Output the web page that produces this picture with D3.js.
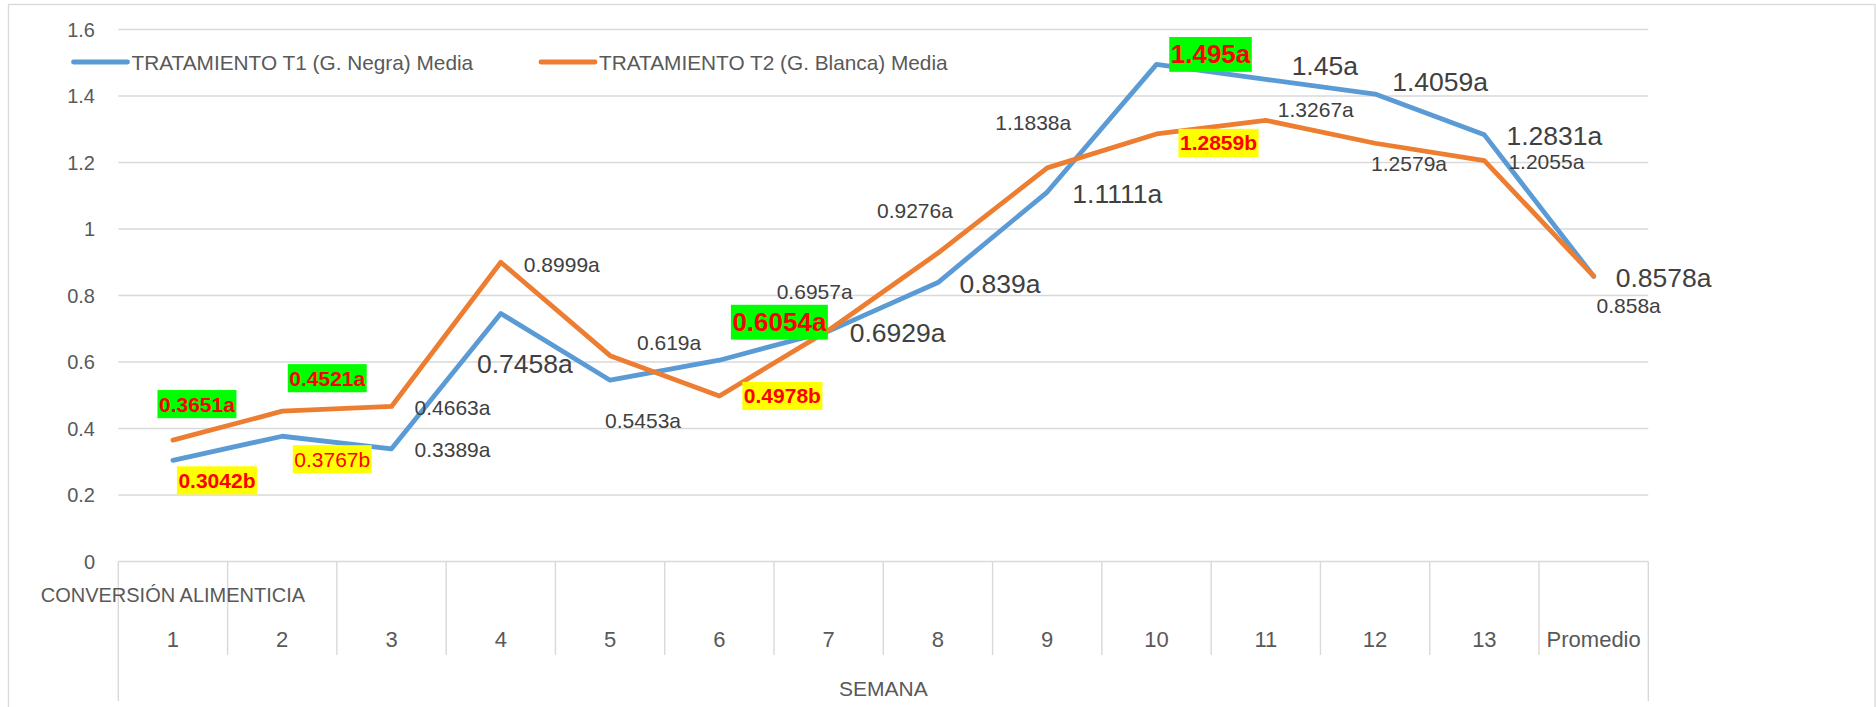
<!DOCTYPE html>
<html>
<head>
<meta charset="utf-8">
<script src="https://cdn.jsdelivr.net/npm/d3@7"></script>
<style>
  html, body { margin: 0; padding: 0; background: #ffffff; }
  svg { display: block; }
  text { font-family: "Liberation Sans", Arial, sans-serif; }
</style>
</head>
<body>
<svg id="chart" width="1876" height="707"></svg>
<script>
// ---------------- DATA ----------------
const categories = ["1","2","3","4","5","6","7","8","9","10","11","12","13","Promedio"];
const seriesNames = ["TRATAMIENTO T1 (G. Negra) Media", "TRATAMIENTO T2 (G. Blanca) Media"];
const t1Values = [0.3042, 0.3767, 0.3389, 0.7458, 0.5453, 0.6054, 0.6929, 0.839, 1.1111, 1.495, 1.45, 1.4059, 1.2831, 0.8578];
const t2Values = [0.3651, 0.4521, 0.4663, 0.8999, 0.619, 0.4978, 0.6957, 0.9276, 1.1838, 1.2859, 1.3267, 1.2579, 1.2055, 0.858];
const t1Labels = ["0.3042b","0.3767b","0.3389a","0.7458a","0.5453a","0.6054a","0.6929a","0.839a","1.1111a","1.495a","1.45a","1.4059a","1.2831a","0.8578a"];
const t2Labels = ["0.3651a","0.4521a","0.4663a","0.8999a","0.619a","0.4978b","0.6957a","0.9276a","1.1838a","1.2859b","1.3267a","1.2579a","1.2055a","0.858a"];
const yTicks = [0, 0.2, 0.4, 0.6, 0.8, 1, 1.2, 1.4, 1.6];
const yTickLabels = ["0","0.2","0.4","0.6","0.8","1","1.2","1.4","1.6"];
const groupLabel = "CONVERSIÓN ALIMENTICIA";
const axisTitle = "SEMANA";

// ---------------- LAYOUT / STYLE ----------------
// label styles: s = small gray, L = large gray, g = bold red on green, gL = large bold red on green,
// yb = bold red on yellow, y = regular red on yellow
const t1Style = ["yb","y","s","L","s","gL","L","L","L","gL","L","L","L","L"];
const t2Style = ["g","g","s","s","s","yb","s","s","s","yb","s","s","s","s"];
const t1Offsets = [[44,20],[50,23],[61,1],[24,50],[33,40],[60,-38],[69,2],[62,1.5],[70,2],[54,-10],[59,-13],[65,-12],[70,1],[70,2]];
const t2Offsets = [[24,-36],[45,-33],[61,1],[61,2],[59,-13],[63,0],[-14,-38.5],[-23,-43],[-14,-45],[62,9],[50,-11],[34,20],[62,1],[35,29]];

const styles = {
  s:  {size: 21,   weight: "normal", fill: "#404040", bg: null},
  L:  {size: 26.5, weight: "normal", fill: "#404040", bg: null},
  g:  {size: 21,   weight: "bold",   fill: "#FF0000", bg: "#00FF00"},
  gL: {size: 26,   weight: "bold",   fill: "#FF0000", bg: "#00FF00"},
  yb: {size: 21,   weight: "bold",   fill: "#FF0000", bg: "#FFFF00"},
  y:  {size: 21,   weight: "normal", fill: "#FF0000", bg: "#FFFF00"}
};
const colors = ["#5B9BD5", "#ED7D31"];

const plotLeft = 118.3, plotRight = 1648.3, plotTop = 29.5, plotBottom = 561.5;

const svg = d3.select("#chart");

// chart border
svg.append("rect")
  .attr("x", 8.5).attr("y", 4.5).attr("width", 1866.5).attr("height", 720)
  .attr("fill", "none").attr("stroke", "#d9d9d9").attr("stroke-width", 1.3);

const x = d3.scaleBand().domain(categories).range([plotLeft, plotRight]).padding(0);
const y = d3.scaleLinear().domain([0, 1.6]).range([plotBottom, plotTop]);

// gridlines
svg.append("g").selectAll("line").data(yTicks).join("line")
  .attr("x1", plotLeft).attr("x2", plotRight)
  .attr("y1", d => y(d)).attr("y2", d => y(d))
  .attr("stroke", "#d9d9d9").attr("stroke-width", 1.4);

// y tick labels
svg.append("g").selectAll("text").data(yTicks).join("text")
  .attr("x", 95).attr("y", d => y(d))
  .attr("text-anchor", "end").attr("dominant-baseline", "central")
  .attr("font-size", 20).attr("fill", "#595959")
  .text((d, i) => yTickLabels[i]);

// category axis separators
const bounds = categories.map(c => x(c)).concat([plotRight]);
svg.append("g").selectAll("line").data(bounds).join("line")
  .attr("x1", d => d).attr("x2", d => d)
  .attr("y1", plotBottom)
  .attr("y2", (d, i) => (i === 0 || i === bounds.length - 1) ? 701 : 655)
  .attr("stroke", "#d9d9d9").attr("stroke-width", 1.4);

// category labels
svg.append("g").selectAll("text").data(categories).join("text")
  .attr("x", d => x(d) + x.bandwidth() / 2).attr("y", 639)
  .attr("text-anchor", "middle").attr("dominant-baseline", "central")
  .attr("font-size", 22).attr("fill", "#595959")
  .text(d => d);

svg.append("text")
  .attr("x", x(categories[0]) + x.bandwidth() / 2).attr("y", 595)
  .attr("text-anchor", "middle").attr("dominant-baseline", "central")
  .attr("font-size", 20).attr("fill", "#595959")
  .text(groupLabel);

svg.append("text")
  .attr("x", (plotLeft + plotRight) / 2).attr("y", 688)
  .attr("text-anchor", "middle").attr("dominant-baseline", "central")
  .attr("font-size", 21).attr("fill", "#595959")
  .text(axisTitle);

// lines
const lineGen = d3.line()
  .x((d, i) => x(categories[i]) + x.bandwidth() / 2)
  .y(d => y(d));

[t1Values, t2Values].forEach((vals, k) => {
  svg.append("path").datum(vals)
    .attr("d", lineGen)
    .attr("fill", "none")
    .attr("stroke", colors[k])
    .attr("stroke-width", 4.8)
    .attr("stroke-linejoin", "round")
    .attr("stroke-linecap", "round");
});

// data labels
function drawLabels(vals, labels, stys, offs) {
  const g = svg.append("g");
  vals.forEach((v, i) => {
    const st = styles[stys[i]];
    const cx = x(categories[i]) + x.bandwidth() / 2 + offs[i][0];
    const cy = y(v) + offs[i][1];
    const grp = g.append("g");
    const t = grp.append("text")
      .attr("x", cx).attr("y", cy)
      .attr("text-anchor", "middle").attr("dominant-baseline", "central")
      .attr("font-size", st.size).attr("font-weight", st.weight)
      .attr("fill", st.fill)
      .text(labels[i]);
    if (st.bg) {
      const w = t.node().getComputedTextLength() + 3;
      const h = st.size * 1.34;
      grp.insert("rect", "text")
        .attr("x", cx - w / 2).attr("y", cy - h / 2)
        .attr("width", w).attr("height", h)
        .attr("fill", st.bg);
    }
  });
}
drawLabels(t1Values, t1Labels, t1Style, t1Offsets);
drawLabels(t2Values, t2Labels, t2Style, t2Offsets);

// legend
const legendItems = [{x0: 73.5, name: seriesNames[0], c: colors[0]}, {x0: 541, name: seriesNames[1], c: colors[1]}];
const lg = svg.append("g");
legendItems.forEach(it => {
  lg.append("line")
    .attr("x1", it.x0).attr("x2", it.x0 + 54)
    .attr("y1", 62).attr("y2", 62)
    .attr("stroke", it.c).attr("stroke-width", 4.8).attr("stroke-linecap", "round");
  lg.append("text")
    .attr("x", it.x0 + 58).attr("y", 62)
    .attr("dominant-baseline", "central")
    .attr("font-size", 20.8).attr("fill", "#595959")
    .text(it.name);
});
</script>
</body>
</html>
